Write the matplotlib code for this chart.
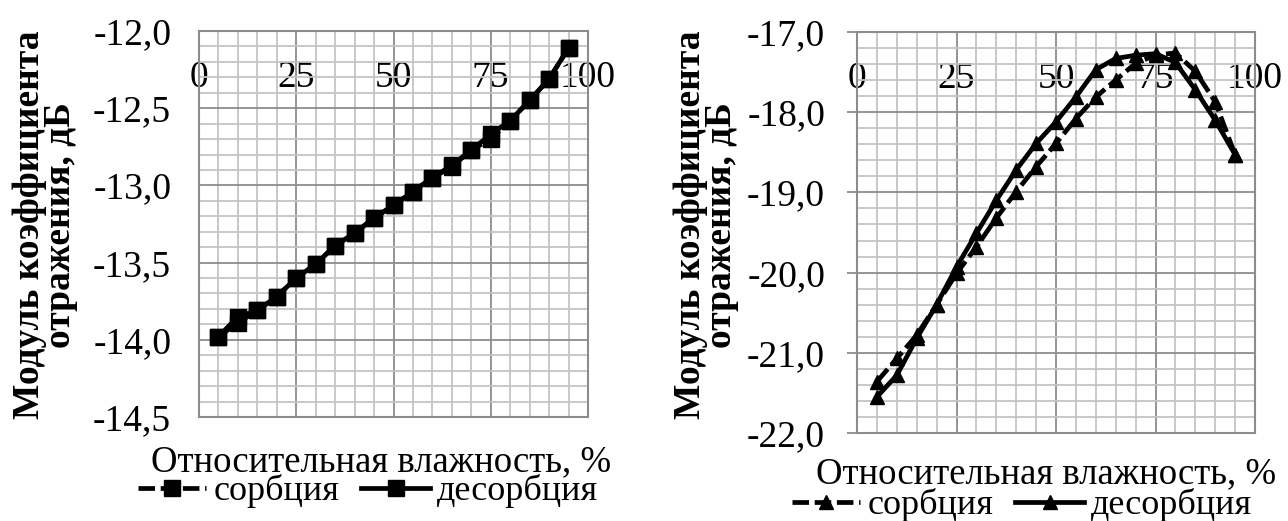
import matplotlib
matplotlib.use("Agg")
import matplotlib.pyplot as plt
from matplotlib.ticker import MultipleLocator, FuncFormatter

plt.rcParams['font.family'] = ['Liberation Serif', 'DejaVu Serif']

# относительная влажность, %
rh = [5, 10, 15, 20, 25, 30, 35, 40, 45, 50, 55, 60, 65, 70, 75, 80, 85, 90, 95]

# левый график (квадраты)
left_sorp = [-13.98, -13.89, -13.81, -13.72, -13.60, -13.51, -13.39, -13.31, -13.21, -13.13,
             -13.04, -12.95, -12.88, -12.77, -12.70, -12.58, -12.45, -12.31, -12.11]
left_desorp = [-13.98, -13.85, -13.81, -13.72, -13.60, -13.51, -13.39, -13.31, -13.21, -13.13,
               -13.04, -12.95, -12.87, -12.77, -12.67, -12.58, -12.45, -12.31, -12.11]

# правый график (треугольники)
right_sorp = [-21.36, -21.07, -20.78, -20.40, -20.01, -19.68, -19.32, -18.99, -18.68, -18.39,
              -18.08, -17.81, -17.60, -17.39, -17.29, -17.26, -17.49, -17.87, -18.53]
right_desorp = [-21.55, -21.28, -20.82, -20.40, -19.93, -19.51, -19.10, -18.72, -18.39, -18.12,
                -17.81, -17.47, -17.33, -17.29, -17.27, -17.38, -17.72, -18.10, -18.53]

xticks = [0, 25, 50, 75, 100]
left_ylim = (-14.5, -12.0)
right_ylim = (-22.0, -17.0)

ylabel = "Модуль коэффициента\nотражения, дБ"
xlabel = "Относительная влажность, %"
names = ["сорбция", "десорбция"]

FS = 27
W, H = 1288, 521
fig = plt.figure(figsize=(W / 100, H / 100), dpi=100)


def px_axes(x0, y0, x1, y1):
    return fig.add_axes([x0 / W, 1 - y1 / H, (x1 - x0) / W, (y1 - y0) / H])


def comma(v, pos):
    return f"{v:.1f}".replace(".", ",")


def setup(ax, ylim, ymaj, ymin, ytick_len, ypad):
    ax.set_xlim(0, 100)
    ax.set_ylim(*ylim)
    ax.xaxis.set_major_locator(MultipleLocator(25))
    ax.xaxis.set_minor_locator(MultipleLocator(5))
    ax.yaxis.set_major_locator(MultipleLocator(ymaj))
    ax.yaxis.set_minor_locator(MultipleLocator(ymin))
    ax.yaxis.set_major_formatter(FuncFormatter(comma))
    ax.grid(which="major", color="#8c8c8c", lw=1.3)
    ax.grid(which="minor", color="#c4c4c4", lw=1.3)
    ax.set_axisbelow(True)
    for s in ax.spines.values():
        s.set_color("#8c8c8c")
        s.set_linewidth(1.5)
    ax.xaxis.set_ticks_position("top")
    ax.tick_params(axis="x", which="both", length=0, labeltop=True, labelbottom=False,
                   pad=-46, labelsize=FS)
    ax.tick_params(axis="y", which="minor", length=0)
    ax.tick_params(axis="y", which="major", length=ytick_len, width=1.3, color="#8c8c8c",
                   pad=ypad, labelsize=FS)


mk_kw = dict(color="black", lw=3.4, mfc="black", mec="black")

# --- левый
ax1 = px_axes(199, 31, 588, 417)
setup(ax1, left_ylim, 0.5, 0.1, 0, 20)
ax1.plot(rh, left_sorp, ls=(0, (3.5, 1.2)), marker="s", ms=11, **mk_kw)
ax1.plot(rh, left_desorp, ls="-", marker="s", ms=11, **mk_kw)
ax1.set_xticks(xticks)

# --- правый
ax2 = px_axes(857, 32, 1255, 433)
setup(ax2, right_ylim, 1.0, 0.2, 7, 16)
ax2.plot(rh, right_sorp, ls=(0, (3.5, 1.2)), marker="^", ms=10, **mk_kw)
ax2.plot(rh, right_desorp, ls="-", marker="^", ms=10, **mk_kw)
ax2.set_xticks(xticks)

for ax, lx in ((ax1, 45), (ax2, 706)):
    fig.text(lx / W, 1 - 225 / H, ylabel, rotation=90, ha="center", va="center",
             fontsize=FS, fontweight="bold", multialignment="center", linespacing=0.88)

fig.text(381 / W, 1 - 471 / H, xlabel, ha="center", va="baseline", fontsize=26.5)
fig.text(1046 / W, 1 - 483 / H, xlabel, ha="center", va="baseline", fontsize=26.5)

for ax, cx, cy in ((ax1, 368, 491), (ax2, 1022, 505)):
    fig.legend(ax.get_lines(), names, loc="center", bbox_to_anchor=(cx / W, 1 - cy / H),
               ncol=2, frameon=False, fontsize=26, handlelength=1.9, handletextpad=0.2,
               columnspacing=0.6, borderaxespad=0, borderpad=0, handleheight=0.5)

fig.savefig("out.png", dpi=100)
